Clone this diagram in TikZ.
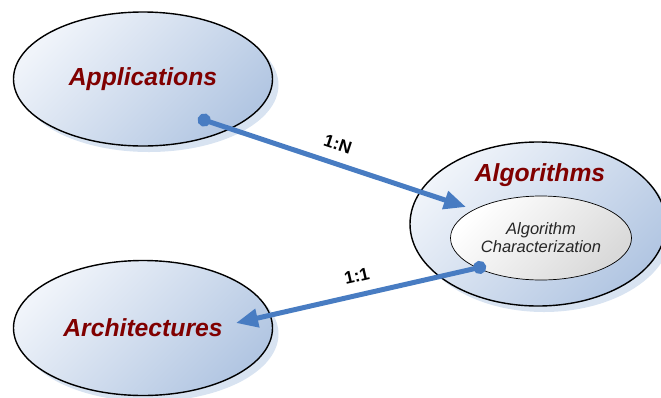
\documentclass[tikz,border=0pt]{standalone}
\usepackage{fontspec}
\setmainfont{Liberation Sans}
\usetikzlibrary{shapes.geometric, shadows, arrows.meta, positioning, calc}
\definecolor{domred}{RGB}{128,0,0}
\definecolor{lightblue}{RGB}{240,244,250}
\definecolor{darkblue}{RGB}{178,198,226}
\definecolor{shadowblue}{RGB}{216,227,241}
\definecolor{linkblue}{RGB}{72,124,194}

\begin{document}
\begin{tikzpicture}[x=1pt,y=-1pt,thick]
    \tikzstyle{domainnode}=[ellipse, draw=black, line width=1.4pt,
      top color=lightblue, bottom color=darkblue, shading angle=45,
      drop shadow={shadow xshift=6pt, shadow yshift=-6pt, fill=shadowblue, opacity=1},
      text=domred, font=\fontsize{24.7}{28}\selectfont\bfseries\itshape]
    \tikzstyle{charnode}=[ellipse, draw=black, line width=0.7pt,
      top color=white, bottom color=black!15, shading angle=45,
      align=center, font=\fontsize{16.5}{18}\selectfont\itshape, text=black!85]
    \tikzstyle{linkarrow}=[linkblue, line width=5pt,
      {Circle[length=13pt]}-{Triangle[length=22pt,width=18pt]}]
    \tikzstyle{ratiolabel}=[font=\fontsize{17.5}{19}\selectfont\bfseries, text=black, sloped, above=7pt]
      \useasboundingbox (0,0) rectangle (661,397);
      \node[domainnode, minimum width=259pt, minimum height=134pt] (app) at (143,79)  {Applications};
      \node[domainnode, minimum width=259pt, minimum height=135pt] (arch) at (143,328) {Architectures};
      \node[domainnode, minimum width=256pt, minimum height=164pt] (alg)  at (538,224) {};
      \node[text=domred, font=\fontsize{24.7}{28}\selectfont\bfseries\itshape] (algname) at (540,175) {Algorithms};
      \node[charnode, minimum width=181pt, minimum height=84pt] (chr) at (541,238) {Algorithm\\Characterization};

      \coordinate (appdot) at (198,118);
      \coordinate (algtip) at (466,207);
      \coordinate (chrdot) at (486,266);
      \coordinate (archtip) at (236,323);

      \draw[linkarrow] (appdot) -- node[ratiolabel]{1:N} (algtip);
      \draw[linkarrow] (chrdot) -- node[ratiolabel]{1:1} (archtip);
\end{tikzpicture}
\end{document}
